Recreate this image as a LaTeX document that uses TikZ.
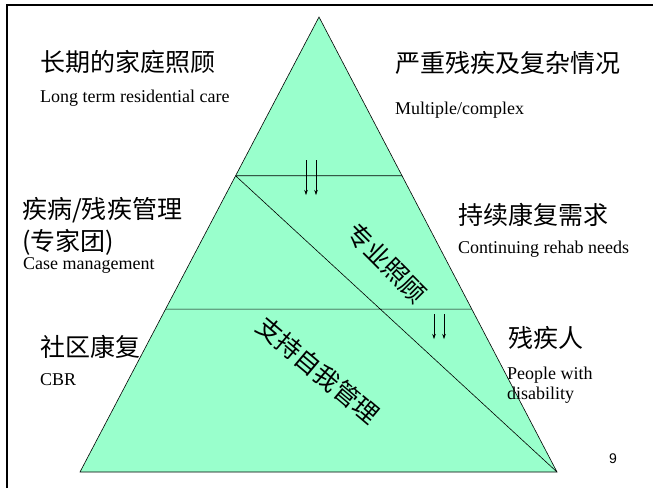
\documentclass[tikz,border=0pt]{standalone}
\usepackage{fontspec}
\setmainfont{Liberation Serif}
\newfontfamily\cjk{Noto Sans CJK SC}
\newfontfamily\arialfont{Liberation Sans}
\usetikzlibrary{arrows.meta, calc}
\definecolor{pyramidgreen}{RGB}{153,255,204}

\begin{document}
\begin{tikzpicture}[
  x=1pt, y=-1pt,
  zh/.style    ={font=\cjk\fontsize{25}{28}\selectfont, anchor=west, inner sep=0pt},
  en/.style    ={font=\fontsize{18}{20}\selectfont, anchor=west, inner sep=0pt, align=left},
  slant/.style ={font=\cjk\fontsize{25}{28}\selectfont, inner sep=0pt},
  layer/.style ={draw, line width=0.6pt},
  flow/.style  ={-{Stealth[length=5pt,width=3.5pt]}, line width=0.5pt}
]
\useasboundingbox (0,0) rectangle (653,488);

%--- Frame ------------------------------------------------------------------
\draw[line width=2.2pt] (7,488) -- (7,5) -- (653,5);

%--- Pyramid ----------------------------------------------------------------
\coordinate (apex)  at (319,17);
\coordinate (baseL) at (80,472);
\coordinate (baseR) at (557,472);
\coordinate (cutA)  at ($(apex)!0.349!(baseL)$);
\coordinate (cutB)  at ($(apex)!0.349!(baseR)$);
\coordinate (cutC)  at ($(apex)!0.642!(baseL)$);
\coordinate (cutD)  at ($(apex)!0.642!(baseR)$);

\fill[pyramidgreen] (apex) -- (baseL) -- (baseR) -- cycle;
\draw[layer] (apex) -- (baseL) -- (baseR) -- cycle;
\draw[layer] (cutA) -- (cutB)
             (cutC) -- (cutD)
             (cutA) -- (baseR);

%--- Downward arrows --------------------------------------------------------
\foreach \x/\n in {306/a, 316/b, 434/c, 444/d}{
  \ifnum\x<400
    \coordinate (from\n) at (\x,160); \coordinate (to\n) at (\x,195);
  \else
    \coordinate (from\n) at (\x,314); \coordinate (to\n) at (\x,339);
  \fi
  \draw[flow] (from\n) -- (to\n);
}

%--- Left labels ------------------------------------------------------------
\node[zh] (homecare)  at (40,62)  {长期的家庭照顾};
\node[en] (homecareE) at (40,98)  {Long term residential care};
\node[zh] (casemgmt)  at (22,210) {疾病/残疾管理};
\node[zh] (experts)   at (22,242) {(专家团)};
\node[en] (casemgmtE) at (23,265) {Case management};
\node[zh] (cbr)       at (40,347) {社区康复};
\node[en] (cbrE)      at (40,380) {CBR};

%--- Right labels -----------------------------------------------------------
\node[zh] (complex)   at (395,63)  {严重残疾及复杂情况};
\node[en] (complexE)  at (395,110) {Multiple/complex};
\node[zh] (rehab)     at (458,215) {持续康复需求};
\node[en] (rehabE)    at (458,249) {Continuing rehab needs};
\node[zh] (disabled)  at (508,338) {残疾人};
\node[en] (disabledE) at (507,385) {People with\\disability};

%--- Slanted labels ---------------------------------------------------------
\node[slant, rotate=-45] (specialist) at (387,263) {专业照顾};
\node[slant, rotate=-40] (selfcare)   at (318,370) {支持自我管理};

\node[font=\arialfont\fontsize{14}{16}\selectfont, inner sep=0pt] (page) at (613,459) {9};
\end{tikzpicture}
\end{document}
